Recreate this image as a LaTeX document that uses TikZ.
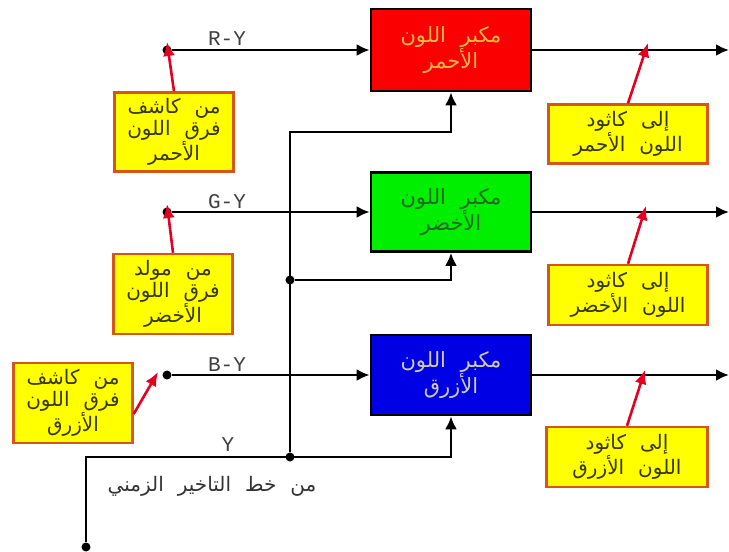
\documentclass[tikz,border=0pt]{standalone}
\usepackage{fontspec}
\usepackage{tikz}
\usetikzlibrary{arrows.meta,shapes}
\TeXXeTstate=1
\newfontfamily\arabicfont[Script=Arabic,WordSpace=2.2]{DejaVu Sans}
\newfontfamily\monofont{Liberation Mono}
\definecolor{ampred}{RGB}{250,0,0}
\definecolor{ampgreen}{RGB}{0,238,0}
\definecolor{ampblue}{RGB}{0,0,228}
\definecolor{redtxt}{RGB}{245,185,70}
\definecolor{greentxt}{RGB}{35,105,35}
\definecolor{bluetxt}{RGB}{205,205,170}
\definecolor{noteyel}{RGB}{255,255,0}
\definecolor{noteedge}{RGB}{215,85,25}
\definecolor{notetxt}{RGB}{55,55,10}
\definecolor{ptrred}{RGB}{228,0,30}
\tikzstyle{amp}=[rectangle,draw=black,line width=2.6pt,minimum width=160pt,
  minimum height=80pt,inner sep=0pt,align=center,
  font=\arabicfont\fontsize{21}{26}\selectfont]
\tikzstyle{note}=[rectangle,draw=noteedge,fill=noteyel,line width=2.4pt,
  minimum width=119pt,inner sep=0pt,align=center,text=notetxt,
  font=\arabicfont\fontsize{20}{22}\selectfont]
\tikzstyle{dot}=[circle,fill=black,minimum size=9pt,inner sep=0pt]
\tikzstyle{sig}=[line width=2.6pt,-{Latex[length=13pt,width=12pt]}]
\tikzstyle{ptr}=[ptrred,line width=2.6pt,-{Latex[length=14pt,width=12pt]}]
\tikzstyle{lbl}=[font=\monofont\fontsize{21}{21}\selectfont,text=black!75]

\begin{document}
\begin{tikzpicture}[x=1pt,y=-1pt]
  \useasboundingbox (0,0) rectangle (729,552);

  % the three colour amplifiers
  \node[amp,fill=ampred,text=redtxt,minimum height=82pt] (red) at (451,50)
    {\beginR مكبر اللون\endR\\\beginR الأحمر\endR};
  \node[amp,fill=ampgreen,text=greentxt,minimum height=79pt] (green) at (451,212)
    {\beginR مكبر اللون\endR\\\beginR الأخضر\endR};
  \node[amp,fill=ampblue,text=bluetxt] (blue) at (451,375)
    {\beginR مكبر اللون\endR\\\beginR الأزرق\endR};

  % inputs
  \node[dot] (rydot) at (167,50) {};
  \node[dot] (gydot) at (167,212) {};
  \node[dot] (bydot) at (167,375) {};
  \draw[sig] (rydot) -- (red.west);
  \draw[sig] (gydot) -- (green.west);
  \draw[sig] (bydot) -- (blue.west);
  \node[lbl] at (227,39) {R-Y};
  \node[lbl] at (227,202) {G-Y};
  \node[lbl] at (227,365) {B-Y};

  % outputs
  \coordinate (rout) at (729,50);
  \coordinate (gout) at (729,212);
  \coordinate (bout) at (729,375);
  \draw[sig] (red.east) -- (rout);
  \draw[sig] (green.east) -- (gout);
  \draw[sig] (blue.east) -- (bout);

  % luminance bus
  \node[dot] (ydot) at (86,547) {};
  \coordinate (yleft) at (86,457);
  \node[dot] (jy) at (290,457) {};
  \node[dot] (jg) at (290,280) {};
  \coordinate (top) at (290,132);
  \draw[sig] (ydot) -- (yleft) -| (blue.south);
  \draw[sig] (jy) -- (top) -| (red.south);
  \draw[sig] (jg) -| (green.south);
  \node[lbl] at (228,445) {Y};
  \node[font=\arabicfont\fontsize{20}{20}\selectfont,text=black!80] (delay) at (212,486)
    {\beginR من خط التاخير الزمني\endR};

  % source notes
  \node[note,minimum height=79pt] (rsrc) at (174,132)
    {\beginR من كاشف\endR\\\beginR فرق اللون\endR\\\beginR الأحمر\endR};
  \draw[ptr] (rsrc.north) -- ([yshift=8pt]rydot.center);
  \node[note,minimum height=80pt] (gsrc) at (173,294)
    {\beginR من مولد\endR\\\beginR فرق اللون\endR\\\beginR الأخضر\endR};
  \draw[ptr] (gsrc.north) -- ([yshift=8pt]gydot.center);
  \node[note,minimum height=80pt] (bsrc) at (73,403)
    {\beginR من كاشف\endR\\\beginR فرق اللون\endR\\\beginR الأزرق\endR};
  \draw[ptr] ([yshift=-11pt]bsrc.east) -- ([xshift=-9pt,yshift=3pt]bydot.center);

  % cathode notes
  \node[note,minimum width=159pt,minimum height=59pt] (rcath) at (628,134)
    {\beginR إلى كاثود\endR\\\beginR اللون الأحمر\endR};
  \draw[ptr] (rcath.north) -- ([xshift=20pt,yshift=7pt]rout -| rcath.north);
  \node[note,minimum width=159pt,minimum height=60pt] (gcath) at (628,295)
    {\beginR إلى كاثود\endR\\\beginR اللون الأخضر\endR};
  \draw[ptr] (gcath.north) -- ([xshift=18pt,yshift=6pt]gout -| gcath.north);
  \node[note,minimum width=161pt,minimum height=60pt] (bcath) at (627,457)
    {\beginR إلى كاثود\endR\\\beginR اللون الأزرق\endR};
  \draw[ptr] (bcath.north) -- ([xshift=18pt,yshift=5pt]bout -| bcath.north);
\end{tikzpicture}
\end{document}
